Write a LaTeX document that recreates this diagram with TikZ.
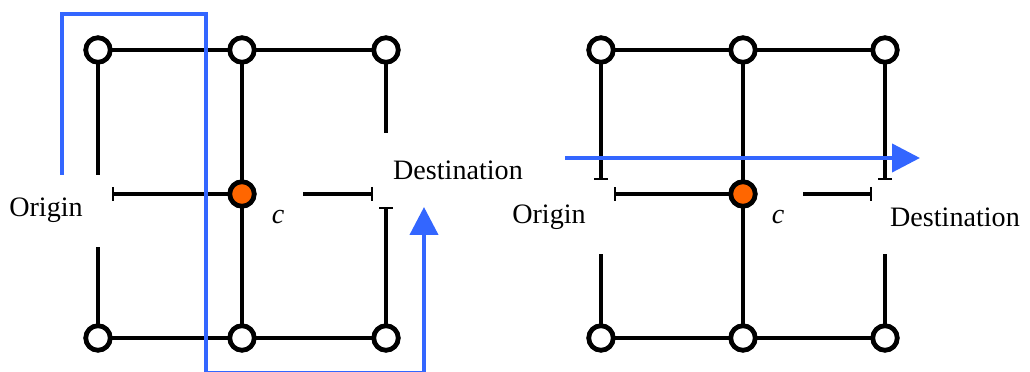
\documentclass[tikz,border=0pt]{standalone}
\usepackage{fontspec}
\setmainfont{Liberation Serif}
\usetikzlibrary{arrows.meta}

\definecolor{routeblue}{RGB}{51,102,255}
\definecolor{hubfill}{RGB}{255,102,0}

\tikzset{
	vertex/.style={shape=circle,draw=black,fill=white,line width=2.7pt,minimum size=4.8mm,inner sep=0pt},
	hub/.style={vertex,fill=hubfill},
	link/.style={line width=2.5pt},
	stub/.style={link,-{Bar[width=2.8mm,line width=1.2pt]}},
	route/.style={draw=routeblue,line width=2.4pt,-{Triangle[length=5.6mm,width=5.6mm]}},
	tag/.style={font=\fontsize{16}{18}\selectfont,inner sep=1pt}
}

\begin{document}
\begin{tikzpicture}[x=0.2mm,y=-0.2mm]
	\useasboundingbox (0,0) rectangle (1030,372);
	
	% left grid
	\node[vertex] (la1) at (98, 50)   {};
	\node[vertex] (la2) at (242, 50)  {};
	\node[vertex] (la3) at (386, 50)  {};
	\node[hub]    (lc)  at (242, 194) {};
	\node[vertex] (lb1) at (98, 338)  {};
	\node[vertex] (lb2) at (242, 338) {};
	\node[vertex] (lb3) at (386, 338) {};
	\coordinate (lwt) at (98, 175);
	\coordinate (lwb) at (98, 247);
	\coordinate (lw)  at (112, 194);
	\coordinate (lce) at (303, 194);
	\coordinate (le)  at (373, 194);
	\coordinate (let) at (386, 133);
	\coordinate (leb) at (386, 207);
	\draw[link] (la1) -- (la2) -- (la3);
	\draw[link] (lb1) -- (lb2) -- (lb3);
	\draw[link] (la2) -- (lc) -- (lb2);
	\draw[link] (la1) -- (lwt);
	\draw[link] (lb1) -- (lwb);
	\draw[link] (la3) -- (let);
	\draw[stub] (lb3) -- (leb);
	\draw[stub] (lc) -- (lw);
	\draw[stub] (lce) -- (le);
	\node[tag] (lorig) at (46, 210)  {Origin};
	\node[tag] (ldest) at (458, 170) {Destination};
	\node[tag] (lcl)   at (278, 217) {\textit{c}};
	
	% right grid
	\node[vertex] (ra1) at (601, 50)  {};
	\node[vertex] (ra2) at (743, 50)  {};
	\node[vertex] (ra3) at (885, 50)  {};
	\node[hub]    (rc)  at (743, 194) {};
	\node[vertex] (rb1) at (601, 338) {};
	\node[vertex] (rb2) at (743, 338) {};
	\node[vertex] (rb3) at (885, 338) {};
	\coordinate (rwt) at (601, 180);
	\coordinate (rwb) at (601, 254);
	\coordinate (rw)  at (614, 194);
	\coordinate (rce) at (803, 194);
	\coordinate (re)  at (872, 194);
	\coordinate (ret) at (885, 180);
	\coordinate (reb) at (885, 254);
	\draw[link] (ra1) -- (ra2) -- (ra3);
	\draw[link] (rb1) -- (rb2) -- (rb3);
	\draw[link] (ra2) -- (rc) -- (rb2);
	\draw[stub] (ra1) -- (rwt);
	\draw[link] (rb1) -- (rwb);
	\draw[stub] (ra3) -- (ret);
	\draw[link] (rb3) -- (reb);
	\draw[stub] (rc) -- (rw);
	\draw[stub] (rce) -- (re);
	\node[tag] (rorig) at (549, 217) {Origin};
	\node[tag] (rdest) at (955, 217) {Destination};
	\node[tag] (rcl)   at (778, 217) {\textit{c}};
	
	% routes
	\coordinate (p0) at (62, 175);
	\coordinate (p1) at (62, 14);
	\coordinate (p2) at (206, 14);
	\coordinate (p3) at (206, 373.5);
	\coordinate (p4) at (424, 373.5);
	\coordinate (p5) at (424, 207);
	\draw[route] (p0) -- (p1) -- (p2) -- (p3) -- (p4) -- (p5);
	\coordinate (q0) at (565, 158);
	\coordinate (q1) at (920, 158);
	\draw[route] (q0) -- (q1);
	
	% redraw the nodes over the lines
	\foreach \v in {la1,la2,la3,lb1,lb2,lb3,ra1,ra2,ra3,rb1,rb2,rb3}
		\draw[line width=2.7pt,fill=white] (\v) circle (2.45mm);
	\foreach \v in {lc,rc}
		\draw[line width=2.7pt,fill=hubfill] (\v) circle (2.45mm);
	
\end{tikzpicture}
\end{document}
